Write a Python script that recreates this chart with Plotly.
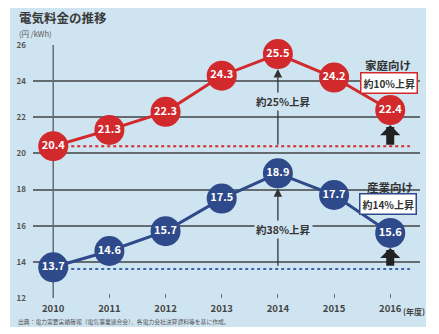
import plotly.graph_objects as go

years = [2010, 2011, 2012, 2013, 2014, 2015, 2016]
household = [20.4, 21.3, 22.3, 24.3, 25.5, 24.2, 22.4]
industry = [13.7, 14.6, 15.7, 17.5, 18.9, 17.7, 15.6]
y_ticks = [12, 14, 16, 18, 20, 22, 24, 26]
x_labels = ["2010", "2011", "2012", "2013", "2014", "2015", "2016"]

RED = "#d1292c"
BLUE = "#2f4a8a"
BG = "#cfe4f1"
GRID = "#656c70"
FONT = "Noto Sans CJK JP"

fig = go.Figure()

for vals, col in [(household, RED), (industry, BLUE)]:
    fig.add_trace(go.Scatter(
        x=years, y=vals, mode="lines+markers+text",
        line=dict(color=col, width=3),
        marker=dict(size=30, color=col),
        text=[f"{v:.1f}" for v in vals], textposition="middle center",
        textfont=dict(family=FONT, size=11, color="white", weight="bold"),
        cliponaxis=False, hoverinfo="skip", showlegend=False))

shapes = [
    dict(type="rect", xref="paper", yref="paper", x0=-0.0594, x1=1.0155,
         y0=-0.1146, y1=1.146, fillcolor=BG, line=dict(width=0), layer="below"),
    dict(type="line", xref="x", yref="y", x0=years[0], x1=years[0], y0=y_ticks[0], y1=y_ticks[-1],
         line=dict(color=GRID, width=1.5), layer="below"),
    dict(type="line", xref="x", yref="y", x0=years[0], x1=2016.35, y0=household[0], y1=household[0],
         line=dict(color=RED, width=2, dash="dot"), layer="below"),
    dict(type="line", xref="x", yref="y", x0=years[0], x1=2016.35, y0=industry[0] - 0.1, y1=industry[0] - 0.1,
         line=dict(color="#3d64a8", width=2, dash="dot"), layer="below"),
]

ann = []
for vals, lab, ly in [(household, "約25%上昇", 22.9), (industry, "約38%上昇", 15.8)]:
    ann.append(dict(x=years[4], y=vals[4], ax=years[4], ay=vals[0], xref="x", yref="y",
                    axref="x", ayref="y", text="", showarrow=True, arrowhead=2,
                    arrowsize=1.3, arrowwidth=1.3, arrowcolor="#333", standoff=15))
    ann.append(dict(x=2014.1, y=ly, xref="x", yref="y", text=lab, showarrow=False,
                    bgcolor=BG, font=dict(family=FONT, size=10.5, color="#333", weight="bold")))
    ann.append(dict(x=years[6], y=vals[6], ax=years[6], ay=vals[0], xref="x", yref="y",
                    axref="x", ayref="y", text="", showarrow=True, arrowhead=1,
                    arrowsize=0.42, arrowwidth=8, arrowcolor="#222", standoff=15))

ann += [
    dict(x=2015.96, y=24.9, xref="x", yref="y", text="家庭向け", showarrow=False,
         font=dict(family=FONT, size=11.5, color="#333", weight="bold")),
    dict(x=2015.98, y=23.9, xref="x", yref="y", text="約10%上昇", showarrow=False,
         bgcolor="white", bordercolor=RED, borderwidth=1.5, borderpad=2,
         font=dict(family=FONT, size=10, color="#333", weight="bold")),
    dict(x=2016.0, y=18.15, xref="x", yref="y", text="産業向け", showarrow=False,
         font=dict(family=FONT, size=11.5, color="#333", weight="bold")),
    dict(x=2015.96, y=17.2, xref="x", yref="y", text="約14%上昇", showarrow=False,
         bgcolor="white", bordercolor=BLUE, borderwidth=1.5, borderpad=2,
         font=dict(family=FONT, size=10, color="#333", weight="bold")),
]

pw = 387
ph = 253
def px(x):
    return (x - 33) / pw
def py(y):
    return (298 - y) / ph

ann += [
    dict(x=px(17), y=py(18), xref="paper", yref="paper", xanchor="left", yanchor="middle",
         text="電気料金の推移", showarrow=False,
         font=dict(family=FONT, size=12.5, color="#3a3a3a", weight="bold")),
    dict(x=px(17), y=py(33), xref="paper", yref="paper", xanchor="left", yanchor="middle",
         text="(円 /kWh)", showarrow=False,
         font=dict(family=FONT, size=7.5, color="#555")),
    dict(x=px(16), y=py(321), xref="paper", yref="paper", xanchor="left", yanchor="middle",
         text="出典：電力需要実績確報（電気事業連合会）、各電力会社決算資料等を基に作成。",
         showarrow=False, font=dict(family=FONT, size=5.8, color="#555")),
    dict(x=2016, y=0, xref="x", yref="paper", xanchor="left", yanchor="top",
         xshift=11, yshift=-6, text="(年度)", showarrow=False,
         font=dict(family=FONT, size=8, color="#444", weight="bold")),
]

fig.update_layout(
    width=439, height=334,
    margin=dict(l=33, r=19, t=45, b=36),
    paper_bgcolor="white", plot_bgcolor="rgba(0,0,0,0)",
    shapes=shapes, annotations=ann,
    xaxis=dict(range=[2009.64, 2016.53], tickvals=years, ticktext=x_labels,
               showgrid=False, zeroline=False, showline=False,
               ticks="inside", ticklen=4, tickcolor=GRID, tickwidth=1.2,
               ticklabelstandoff=3,
               tickfont=dict(family=FONT, size=9.5, color="#444", weight="bold")),
    yaxis=dict(range=[y_ticks[0], y_ticks[-1]], tickvals=y_ticks,
               showgrid=True, gridcolor=GRID, gridwidth=1.5, zeroline=False,
               showline=False, ticks="", ticklabelstandoff=6,
               tickfont=dict(family=FONT, size=8, color="#555", weight="bold")),
)

fig.write_html("out.html")
